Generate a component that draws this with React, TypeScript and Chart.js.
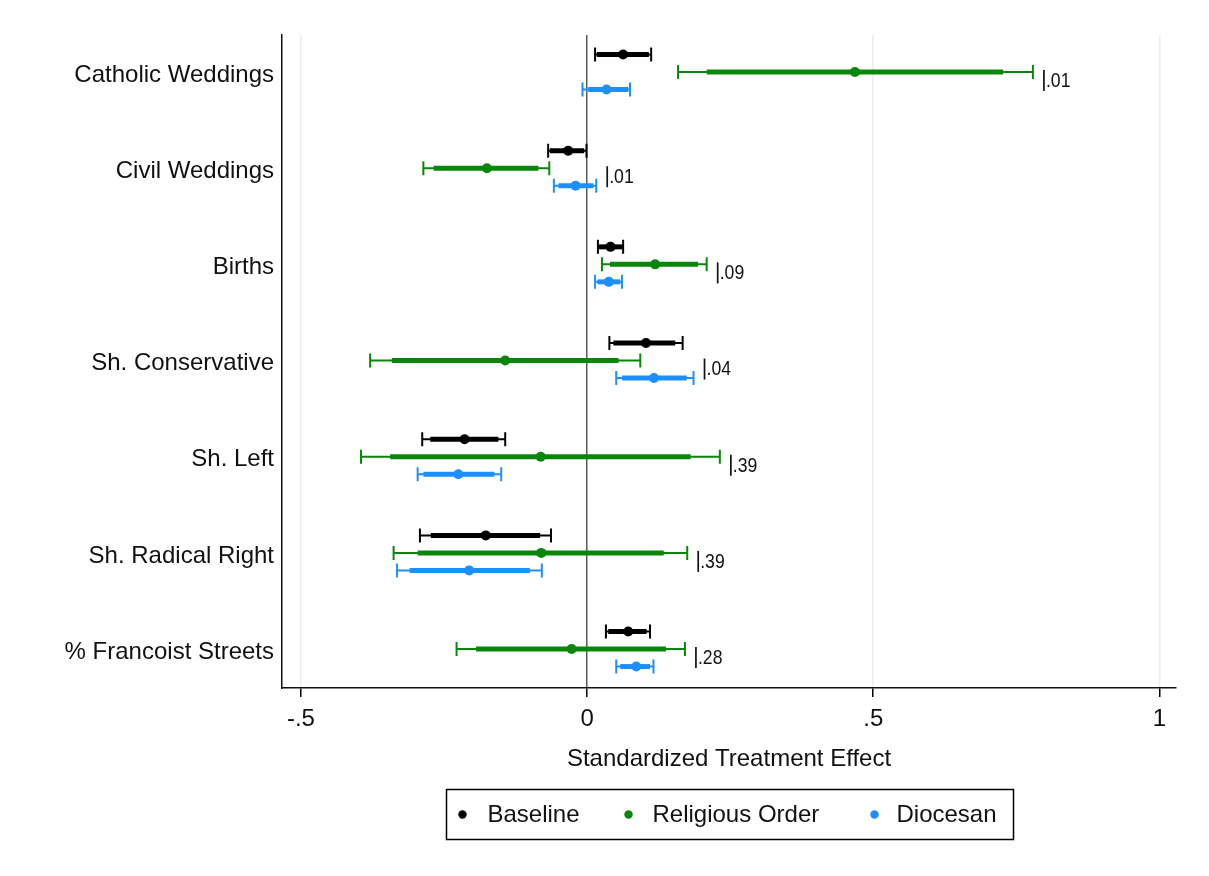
import React, { useEffect, useRef } from 'react';
import { Chart, registerables } from 'chart.js';

Chart.register(...registerables);

const categories = [
  'Catholic Weddings',
  'Civil Weddings',
  'Births',
  'Sh. Conservative',
  'Sh. Left',
  'Sh. Radical Right',
  '% Francoist Streets',
];

const seriesNames = ['Baseline', 'Religious Order', 'Diocesan'];
const seriesColors = ['#000000', '#0a870a', '#1e8fff'];

// Baseline
const baselinePt = [0.063, -0.033, 0.041, 0.103, -0.214, -0.177, 0.072];
const baselineLo95 = [0.014, -0.068, 0.019, 0.039, -0.288, -0.292, 0.033];
const baselineHi95 = [0.112, -0.001, 0.063, 0.167, -0.143, -0.063, 0.110];
const baselineLo90 = [0.017, -0.065, 0.021, 0.046, -0.274, -0.273, 0.037];
const baselineHi90 = [0.108, -0.005, 0.061, 0.154, -0.155, -0.082, 0.104];

// Religious Order
const religiousPt = [0.468, -0.175, 0.119, -0.143, -0.081, -0.080, -0.027];
const religiousLo95 = [0.159, -0.286, 0.026, -0.379, -0.395, -0.338, -0.228];
const religiousHi95 = [0.779, -0.066, 0.209, 0.093, 0.232, 0.175, 0.171];
const religiousLo90 = [0.209, -0.268, 0.040, -0.341, -0.344, -0.296, -0.194];
const religiousHi90 = [0.727, -0.085, 0.194, 0.055, 0.181, 0.134, 0.138];

// Diocesan
const diocesanPt = [0.034, -0.020, 0.038, 0.117, -0.225, -0.206, 0.086];
const diocesanLo95 = [-0.008, -0.058, 0.014, 0.051, -0.296, -0.332, 0.051];
const diocesanHi95 = [0.075, 0.016, 0.061, 0.186, -0.150, -0.079, 0.116];
const diocesanLo90 = [0.002, -0.050, 0.018, 0.061, -0.286, -0.310, 0.058];
const diocesanHi90 = [0.072, 0.011, 0.058, 0.174, -0.162, -0.100, 0.110];

const pValueLabels = ['.01', '.01', '.09', '.04', '.39', '.39', '.28'];
const xTickValues = [-0.5, 0, 0.5, 1];

const seriesPts = [baselinePt, religiousPt, diocesanPt];
const seriesLo95 = [baselineLo95, religiousLo95, diocesanLo95];
const seriesHi95 = [baselineHi95, religiousHi95, diocesanHi95];
const seriesLo90 = [baselineLo90, religiousLo90, diocesanLo90];
const seriesHi90 = [baselineHi90, religiousHi90, diocesanHi90];
const rowOffset = [-0.182, 0, 0.182];

const FONT = "'Liberation Sans', Arial, sans-serif";

const fmtTick = (v: number) => {
  if (v === 0) return '0';
  if (v === 1) return '1';
  return String(v).replace('0.', '.');
};

const errorBarPlugin = {
  id: 'errorBars',
  beforeDatasetsDraw(chart: any) {
    const { ctx } = chart;
    const xs = chart.scales.x;
    const ys = chart.scales.y;
    ctx.save();
    ctx.lineCap = 'butt';
    for (let s = 0; s < 3; s++) {
      ctx.strokeStyle = seriesColors[s];
      for (let i = 0; i < categories.length; i++) {
        const y = ys.getPixelForValue(i + rowOffset[s]);
        const a = xs.getPixelForValue(seriesLo95[s][i]);
        const b = xs.getPixelForValue(seriesHi95[s][i]);
        const c = xs.getPixelForValue(seriesLo90[s][i]);
        const d = xs.getPixelForValue(seriesHi90[s][i]);
        ctx.lineWidth = 2;
        ctx.beginPath();
        ctx.moveTo(a, y);
        ctx.lineTo(b, y);
        ctx.moveTo(a, y - 7);
        ctx.lineTo(a, y + 7);
        ctx.moveTo(b, y - 7);
        ctx.lineTo(b, y + 7);
        ctx.stroke();
        ctx.lineWidth = 5;
        ctx.beginPath();
        ctx.moveTo(c, y);
        ctx.lineTo(d, y);
        ctx.stroke();
      }
    }
    ctx.restore();
  },
  afterDraw(chart: any) {
    const { ctx, chartArea } = chart;
    const xs = chart.scales.x;
    const ys = chart.scales.y;
    ctx.save();
    // p-value labels
    for (let i = 0; i < categories.length; i++) {
      const maxHi = Math.max(seriesHi95[0][i], seriesHi95[1][i], seriesHi95[2][i]);
      const x = xs.getPixelForValue(maxHi) + 11;
      const yc = ys.getPixelForValue(i) + 8;
      ctx.strokeStyle = '#111';
      ctx.lineWidth = 1.7;
      ctx.beginPath();
      ctx.moveTo(x, yc - 10);
      ctx.lineTo(x, yc + 11);
      ctx.stroke();
      ctx.save();
      ctx.translate(x + 2, yc + 1);
      ctx.scale(0.84, 1);
      ctx.fillStyle = '#111';
      ctx.font = `21px ${FONT}`;
      ctx.textAlign = 'left';
      ctx.textBaseline = 'middle';
      ctx.fillText(pValueLabels[i], 0, 0);
      ctx.restore();
    }
    // legend
    const boxW = 567;
    const boxH = 50;
    const cx = (chartArea.left + chartArea.right) / 2;
    const left = Math.round(cx - boxW / 2) + 0.5;
    const top = chartArea.bottom + 101.5;
    ctx.strokeStyle = '#000';
    ctx.lineWidth = 1.5;
    ctx.strokeRect(left, top, boxW, boxH);
    const dotX = [16, 182, 428];
    const textX = [41, 206, 450];
    const midY = top + boxH / 2;
    ctx.font = `24px ${FONT}`;
    ctx.textBaseline = 'middle';
    ctx.textAlign = 'left';
    for (let s = 0; s < 3; s++) {
      ctx.fillStyle = seriesColors[s];
      ctx.beginPath();
      ctx.arc(left + dotX[s], midY, 4.2, 0, Math.PI * 2);
      ctx.fill();
      ctx.fillStyle = '#111';
      ctx.fillText(seriesNames[s], left + textX[s], midY + 1);
    }
    ctx.restore();
  },
};

export default function App() {
  const canvasRef = useRef<HTMLCanvasElement | null>(null);

  useEffect(() => {
    const canvas = canvasRef.current;
    if (!canvas) return;
    const datasets = seriesNames.map((name, s) => ({
      label: name,
      data: categories.map((_, i) => ({ x: seriesPts[s][i], y: i + rowOffset[s] })),
      pointRadius: 5,
      pointHoverRadius: 5,
      pointBackgroundColor: seriesColors[s],
      pointBorderWidth: 0,
      borderColor: seriesColors[s],
      showLine: false,
    }));

    const chart = new Chart(canvas, {
      type: 'scatter',
      data: { datasets },
      plugins: [errorBarPlugin],
      options: {
        animation: false,
        responsive: false,
        maintainAspectRatio: false,
        devicePixelRatio: 1,
        layout: { padding: { top: 35, right: 33, bottom: 102, left: 0 } },
        plugins: {
          legend: { display: false },
          tooltip: { enabled: false },
        },
        scales: {
          x: {
            type: 'linear',
            position: 'bottom',
            min: -0.533,
            max: 1.029,
            afterBuildTicks: (scale: any) => {
              scale.ticks = xTickValues.map((v) => ({ value: v }));
            },
            afterFit: (scale: any) => {
              scale.height = 86;
            },
            ticks: {
              callback: (v: any) => fmtTick(Number(v)),
              font: { family: FONT, size: 24 },
              color: '#111',
              padding: 8,
              maxRotation: 0,
              autoSkip: false,
            },
            grid: {
              color: (ctx: any) => (ctx.tick && ctx.tick.value === 0 ? '#5a5a5a' : '#e6eff1'),
              lineWidth: 1.5,
              drawTicks: true,
              tickLength: 9,
              tickColor: '#000',
              tickWidth: 1.5,
            },
            border: { display: true, color: '#111', width: 1.5 },
            title: {
              display: true,
              text: 'Standardized Treatment Effect',
              font: { family: FONT, size: 24 },
              color: '#111',
              padding: { top: 0, bottom: 0 },
            },
          },
          y: {
            type: 'linear',
            position: 'left',
            reverse: true,
            min: -0.385,
            max: 6.405,
            afterBuildTicks: (scale: any) => {
              scale.ticks = categories.map((_, i) => ({ value: i }));
            },
            afterFit: (scale: any) => {
              scale.width = 282;
            },
            ticks: {
              callback: (v: any) => categories[Math.round(Number(v))] ?? '',
              font: { family: FONT, size: 24 },
              color: '#111',
              padding: 8,
              labelOffset: 3,
              autoSkip: false,
            },
            grid: { display: false, drawTicks: false },
            border: { display: true, color: '#111', width: 1.5 },
          },
        },
      },
    });
    return () => chart.destroy();
  }, []);

  return (
    <div style={{ position: 'absolute', left: 0, top: 0, width: 1209, height: 876, background: '#fff' }}>
      <canvas ref={canvasRef} width={1209} height={876} style={{ display: 'block' }} />
    </div>
  );
}
